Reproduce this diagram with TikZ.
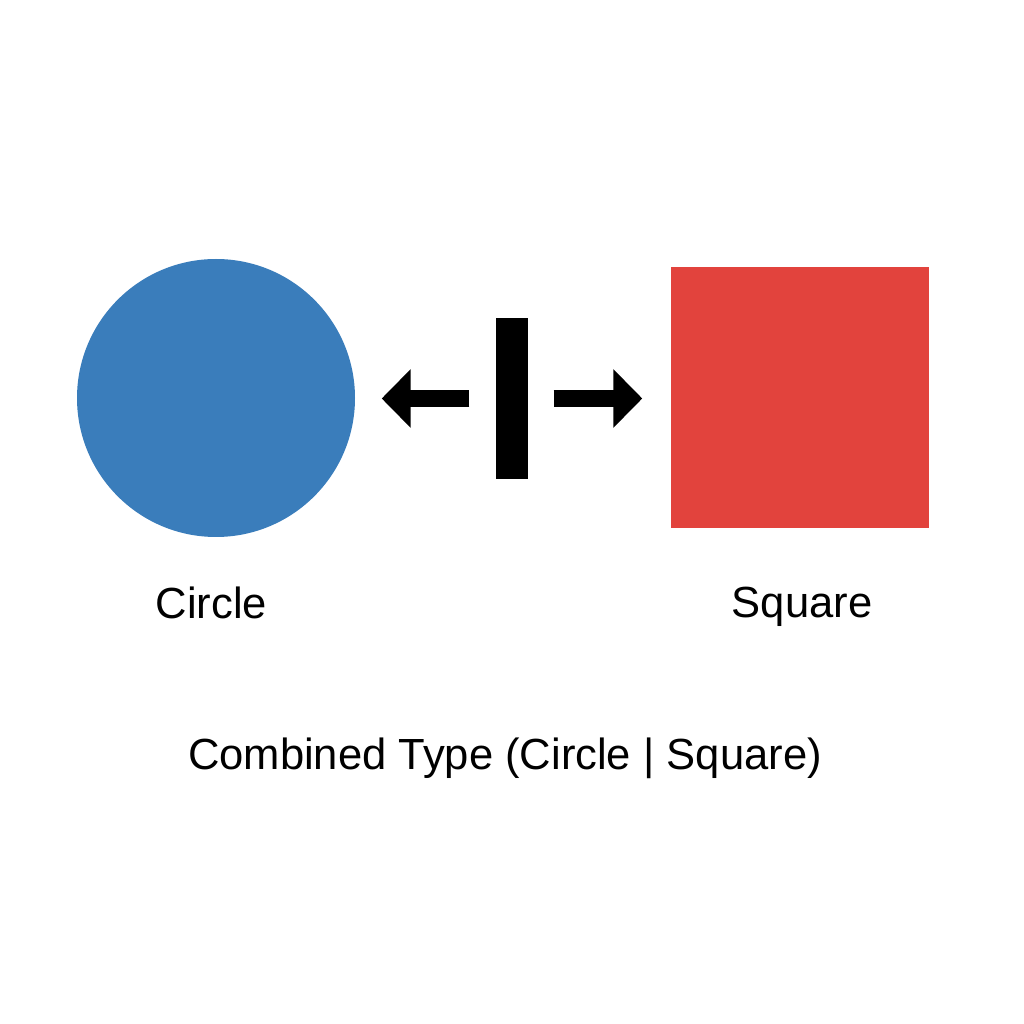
\documentclass[tikz,border=0pt]{standalone}
\usepackage{fontspec}
\setmainfont{Liberation Sans}
\usetikzlibrary{arrows.meta,positioning}
\definecolor{circleblue}{HTML}{3A7DBB}
\definecolor{squarered}{HTML}{E2433D}
\tikzset{
  shapelabel/.style={anchor=base, font=\fontsize{12.4}{15}\selectfont},
  bigarrow/.style={line width=1.7mm, -{Triangle[length=2.9mm, width=5.7mm]}}
}
\begin{document}
\begin{tikzpicture}
\useasboundingbox[fill=white] (0,0) rectangle (10.24,10.24);
% Kreis und Quadrat
\node (circ) [circle, fill=circleblue, minimum size=2.78cm, inner sep=0pt] at (2.16,6.26) {};
\node (sq) [rectangle, fill=squarered, minimum width=2.58cm, minimum height=2.61cm, inner sep=0pt] at (8.00,6.265) {};

% Trennstrich in der Mitte
\node (bar) [rectangle, fill=black, minimum width=0.32cm, minimum height=1.61cm, inner sep=0pt] at (5.12,6.255) {};

% Pfeile
\draw[bigarrow, shorten <=2.6mm, shorten >=2.6mm] (bar.west) -- (circ.east |- bar.west);
\draw[bigarrow, shorten <=2.5mm, shorten >=2.8mm] (bar.east) -- (sq.west |- bar.east);

% Beschriftungen
\node (circlabel) [shapelabel] at (2.115,4.05) {Circle};
\node (sqlabel) [shapelabel] at (8.02,4.06) {Square};
\node (combined) [shapelabel] at (5.05,2.55) {Combined Type (Circle | Square)};
\end{tikzpicture}
\end{document}
